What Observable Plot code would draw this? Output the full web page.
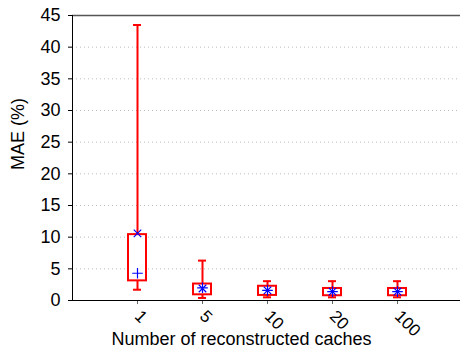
<!DOCTYPE html>
<html><head><meta charset="utf-8">
<script src="https://cdn.jsdelivr.net/npm/d3@7"></script>
<script src="https://cdn.jsdelivr.net/npm/@observablehq/plot@0.6"></script>
<style>body{margin:0;background:#fff;font-family:"Liberation Sans",Arial,sans-serif}</style>
</head><body><div id="chart"></div>
<script>
const categories = ["1", "5", "10", "20", "100"];
const whiskerHigh = [43.5, 6.3, 3.05, 3.05, 3.05];
const q3 = [10.4, 2.6, 2.25, 1.9, 1.9];
const q1 = [3.1, 0.9, 0.8, 0.75, 0.75];
const whiskerLow = [1.7, 0.4, 0.5, 0.5, 0.5];
const crossMarker = [10.6, 1.9, 1.6, 1.4, 1.4];
const plusMarker = [4.3, 2.0, 1.6, 1.4, 1.4];
const yTicks = [0, 5, 10, 15, 20, 25, 30, 35, 40, 45];
const gridTicks = [5, 10, 15, 20, 25, 30, 35, 40];

const data = categories.map((c, i) => ({c, hi: whiskerHigh[i], q3: q3[i], q1: q1[i], lo: whiskerLow[i], cross: crossMarker[i], plus: plusMarker[i]}));

const red = "#ff0000", blue = "#0000ff";
const chart = Plot.plot({
  width: 460, height: 348,
  marginLeft: 72, marginRight: 0, marginTop: 15, marginBottom: 48,
  style: {fontFamily: "Liberation Sans, Arial, sans-serif", fontSize: "18px", color: "#000", overflow: "visible"},
  x: {type: "band", domain: categories, range: [72, 462], paddingInner: 0.723, paddingOuter: 0.8615},
  y: {domain: [0, 45]},
  marks: [
    Plot.ruleY(gridTicks, {stroke: "#bbb", strokeDasharray: "1,3", strokeWidth: 1}),
    Plot.ruleY([45], {stroke: "#555", strokeWidth: 1.5}),
    Plot.ruleX(data, {x: "c", y1: "lo", y2: "hi", stroke: red, strokeWidth: 2}),
    Plot.tickY(data, {x: "c", y: "hi", stroke: red, strokeWidth: 2, insetLeft: 5, insetRight: 5}),
    Plot.tickY(data, {x: "c", y: "lo", stroke: red, strokeWidth: 2, insetLeft: 5, insetRight: 5}),
    Plot.rect(data, {x: "c", y1: "q1", y2: "q3", fill: "white", stroke: red, strokeWidth: 2}),
    Plot.dot(data, {x: "c", y: "cross", symbol: "times", r: 3.5, stroke: blue, strokeWidth: 1.2}),
    Plot.dot(data, {x: "c", y: "plus", symbol: "plus", r: 3.5, stroke: blue, strokeWidth: 1.2}),
    Plot.axisY(yTicks, {tickSize: 4, tickPadding: 8, fontSize: 18, label: null, stroke: "#000"}),
    Plot.frame({anchor: "left", stroke: "#000"}),
    Plot.axisX({tickSize: 4, tickRotate: 45, tickPadding: 9, fontSize: 17, label: null, stroke: "#666"}),
    Plot.ruleY([0], {stroke: "#000", strokeWidth: 1}),
    Plot.text(["MAE (%)"], {frameAnchor: "left", dx: -54, dy: 12, rotate: -90, fontSize: 18}),
    Plot.text(["Number of reconstructed caches"], {frameAnchor: "bottom", dx: -25, dy: 44, fontSize: 18})
  ]
});
document.getElementById("chart").appendChild(chart);
</script></body></html>
